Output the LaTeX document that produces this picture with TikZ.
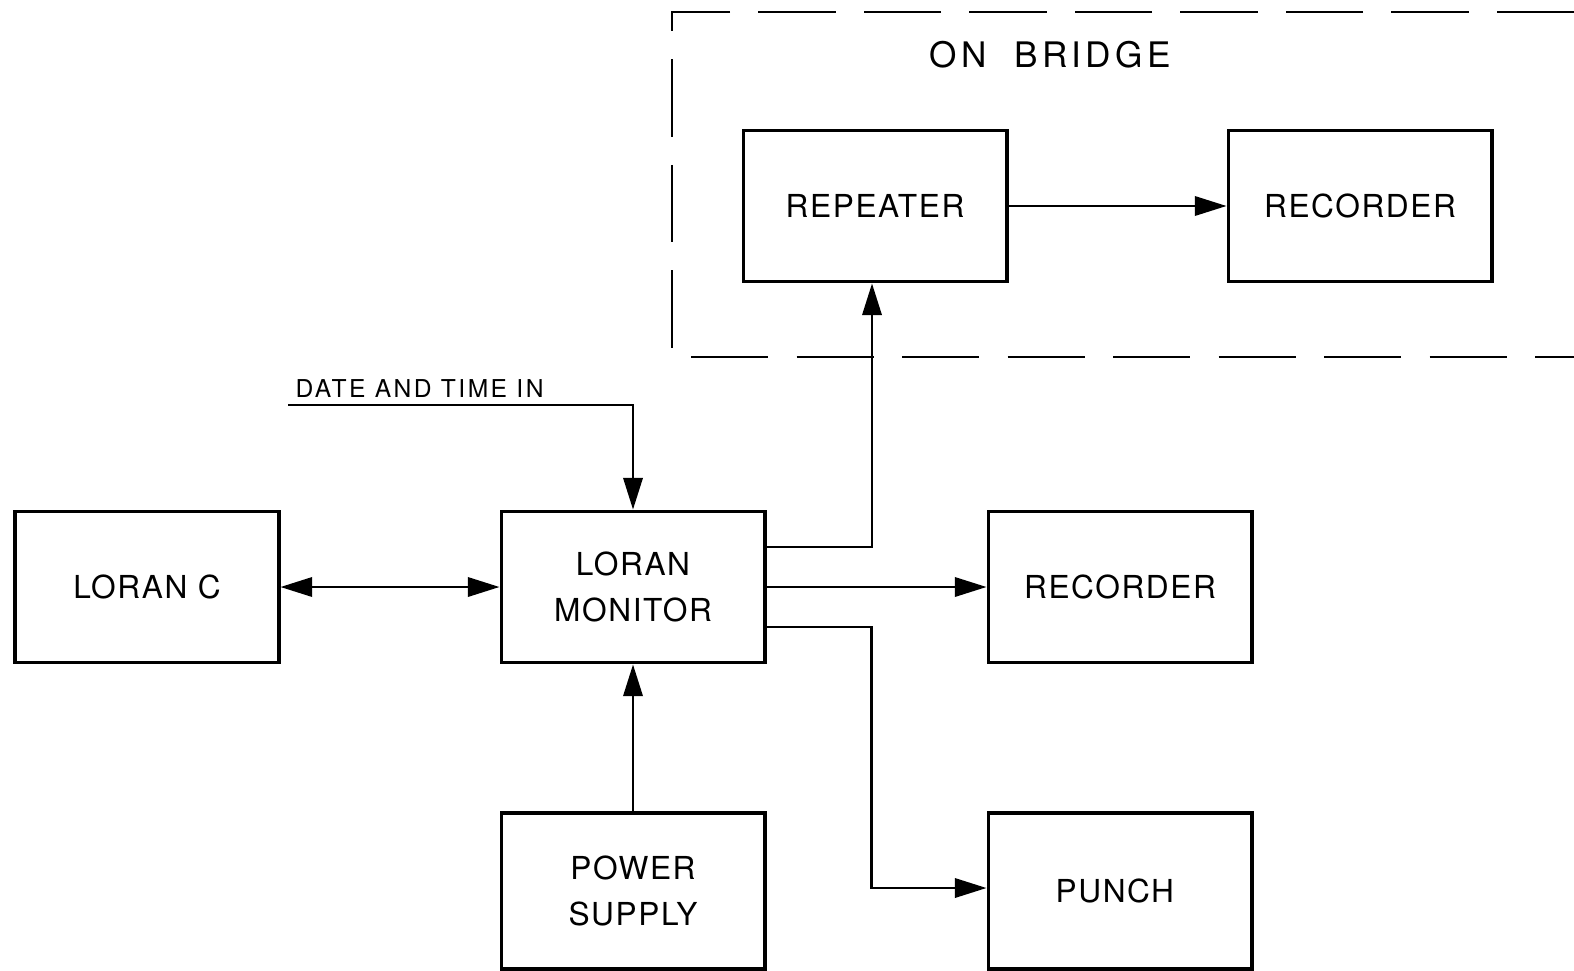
\documentclass[tikz,border=0pt]{standalone}
\usepackage{fontspec}
\setmainfont{TeX Gyre Heros}[LetterSpace=5]
\usepackage{tikz}
\usetikzlibrary{arrows.meta,positioning,calc}
\tikzset{
  unitbox/.style={draw, line width=1.1pt, minimum width=2.63cm, minimum height=1.51cm,
    align=center, font=\fontsize{9}{13}\selectfont},
  flow/.style={-{Triangle[length=9pt,width=5.5pt]}, line width=0.7pt},
  bridgeline/.style={line width=0.8pt, dash pattern=on 22pt off 8pt},
}

\begin{document}
\begin{tikzpicture}[x=0.01cm, y=-0.01cm]
      \useasboundingbox (0,0) rectangle (1574,970);

      % bridge area
      \draw[bridgeline] (1574,12) -- (672,12) -- (672,357) -- (1574,357);
      \node[font=\fontsize{10}{12}\selectfont\addfontfeature{LetterSpace=12}] (bridgelbl) at (1050,55) {ON\ \ BRIDGE};

      \foreach \n/\x/\y/\h/\txt in {
        repeater/875/206/1.51cm/{REPEATER},recordtop/1360/206/1.51cm/{RECORDER},
        loranc/147/587/1.51cm/{LORAN C},monitor/633/587/1.51cm/{LORAN\\MONITOR},
        recordlow/1120/587/1.51cm/{RECORDER},
        power/633/891/1.56cm/{POWER\\SUPPLY},punch/1120/891/1.56cm/{PUNCH}
      }{
        \node[unitbox, minimum height=\h] (\n) at (\x,\y) {\txt};
      }

      \coordinate (datein) at (288,405);
      \node[anchor=south west, inner sep=2pt, font=\fontsize{7}{9}\selectfont\addfontfeature{LetterSpace=10}] (datelbl) at (datein) {DATE AND TIME IN};

      \draw[flow] (repeater) -- (recordtop);
      \draw[flow] (datein) -| (monitor.north);
      \draw[flow, {Triangle[length=9pt,width=5.5pt]}-{Triangle[length=9pt,width=5.5pt]}] (loranc) -- (monitor);
      \draw[flow] ($(monitor.east)+(0,-40)$) -| ($(repeater.south)+(-3,0)$);
      \draw[flow] (monitor) -- (recordlow);
      \draw[flow] ($(monitor.east)+(0,40)$) -| ($(punch.west)+(-115,-3)$) -- ($(punch.west)+(0,-3)$);
      \draw[flow] (power) -- (monitor);
    \end{tikzpicture}
\end{document}
